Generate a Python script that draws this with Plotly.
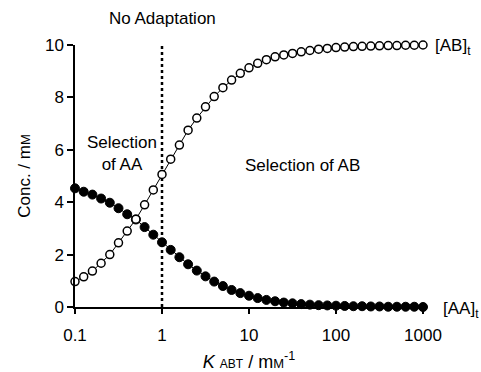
import plotly.graph_objects as go

K_ABT = [0.1, 0.1259, 0.1585, 0.1995, 0.2512, 0.3162, 0.3981, 0.5012, 0.631, 0.7943,
         1.0, 1.259, 1.585, 1.995, 2.512, 3.162, 3.981, 5.012, 6.31, 7.943,
         10.0, 12.59, 15.85, 19.95, 25.12, 31.62, 39.81, 50.12, 63.1, 79.43,
         100.0, 125.9, 158.5, 199.5, 251.2, 316.2, 398.1, 501.2, 631.0, 794.3, 1000.0]

AB_t = [0.97, 1.15, 1.37, 1.67, 2.00, 2.45, 2.90, 3.35, 3.90, 4.47,
        5.06, 5.64, 6.18, 6.75, 7.21, 7.64, 8.03, 8.37, 8.66, 8.92,
        9.13, 9.30, 9.44, 9.55, 9.62, 9.68, 9.74, 9.79, 9.84, 9.87,
        9.90, 9.92, 9.94, 9.95, 9.96, 9.97, 9.98, 9.98, 9.99, 9.99, 10.0]

AA_t = [4.53, 4.40, 4.29, 4.14, 3.98, 3.77, 3.54, 3.34, 3.05, 2.76,
        2.47, 2.18, 1.90, 1.63, 1.39, 1.17, 0.97, 0.80, 0.65, 0.53,
        0.43, 0.34, 0.27, 0.22, 0.17, 0.14, 0.11, 0.09, 0.07, 0.06,
        0.05, 0.04, 0.03, 0.03, 0.02, 0.02, 0.01, 0.01, 0.01, 0.01, 0.0]

x_ticks = [0.1, 1, 10, 100, 1000]
x_tick_labels = ["0.1", "1", "10", "100", "1000"]
y_ticks = [0, 2, 4, 6, 8, 10]

FONT = "Liberation Sans, Arial, sans-serif"

fig = go.Figure()

# dotted "no adaptation" line at K = 1
fig.add_trace(go.Scatter(x=[1, 1], y=[0, 10], mode="lines",
                         line=dict(color="black", width=2.5, dash="dot"),
                         hoverinfo="skip", showlegend=False))

fig.add_trace(go.Scatter(x=K_ABT, y=AA_t, mode="lines+markers", name="[AA]t",
                         line=dict(color="black", width=1),
                         marker=dict(symbol="circle", size=9, color="black",
                                     line=dict(color="black", width=1)),
                         cliponaxis=False, showlegend=False))

fig.add_trace(go.Scatter(x=K_ABT, y=AB_t, mode="lines+markers", name="[AB]t",
                         line=dict(color="black", width=1),
                         marker=dict(symbol="circle", size=8, color="white",
                                     line=dict(color="black", width=1.5)),
                         cliponaxis=False, showlegend=False))

fig.update_layout(
    width=481, height=372,
    margin=dict(l=75, r=58, t=45, b=65),
    paper_bgcolor="white", plot_bgcolor="white",
    font=dict(family=FONT, size=17, color="black"),
    xaxis=dict(type="log", range=[-1, 3], tickvals=x_ticks, ticktext=x_tick_labels,
               showline=True, linecolor="black", linewidth=1.5,
               ticks="outside", ticklen=5, tickwidth=1.5, tickcolor="black",
               ticklabelstandoff=7, automargin=False,
               showgrid=False, zeroline=False,
               tickfont=dict(size=17),
               title=dict(text="<i>K</i> <span style='font-size:12px'>ABT</span> / m<span style='font-size:13px'>M</span><sup>-1</sup>",
                          font=dict(size=18), standoff=16)),
    yaxis=dict(range=[0, 10], tickvals=y_ticks, automargin=False,
               showline=True, linecolor="black", linewidth=1.5,
               ticks="outside", ticklen=6, tickwidth=1.5, tickcolor="black",
               showgrid=False, zeroline=False,
               tickfont=dict(size=17),
               title=dict(text="Conc. / m<span style='font-size:13px'>M</span>",
                          font=dict(size=17), standoff=10)),
)

ann = [
    dict(x=0, y=10, xref="x", yref="y", text="No Adaptation", yshift=27, showarrow=False),
    dict(x=-0.46, y=5.85, xref="x", yref="y", text="Selection<br>of AA", showarrow=False),
    dict(x=1.61, y=5.4, xref="x", yref="y", text="Selection of AB", showarrow=False),
    dict(x=3, y=10, xref="x", yref="y", text="[AB]<sub>t</sub>", xanchor="left", xshift=10, yshift=-2, showarrow=False),
    dict(x=3, y=0, xref="x", yref="y", text="[AA]<sub>t</sub>", xanchor="left", xshift=18, yshift=-3, showarrow=False),
]
fig.update_layout(annotations=ann)

fig.write_html("out.html")
